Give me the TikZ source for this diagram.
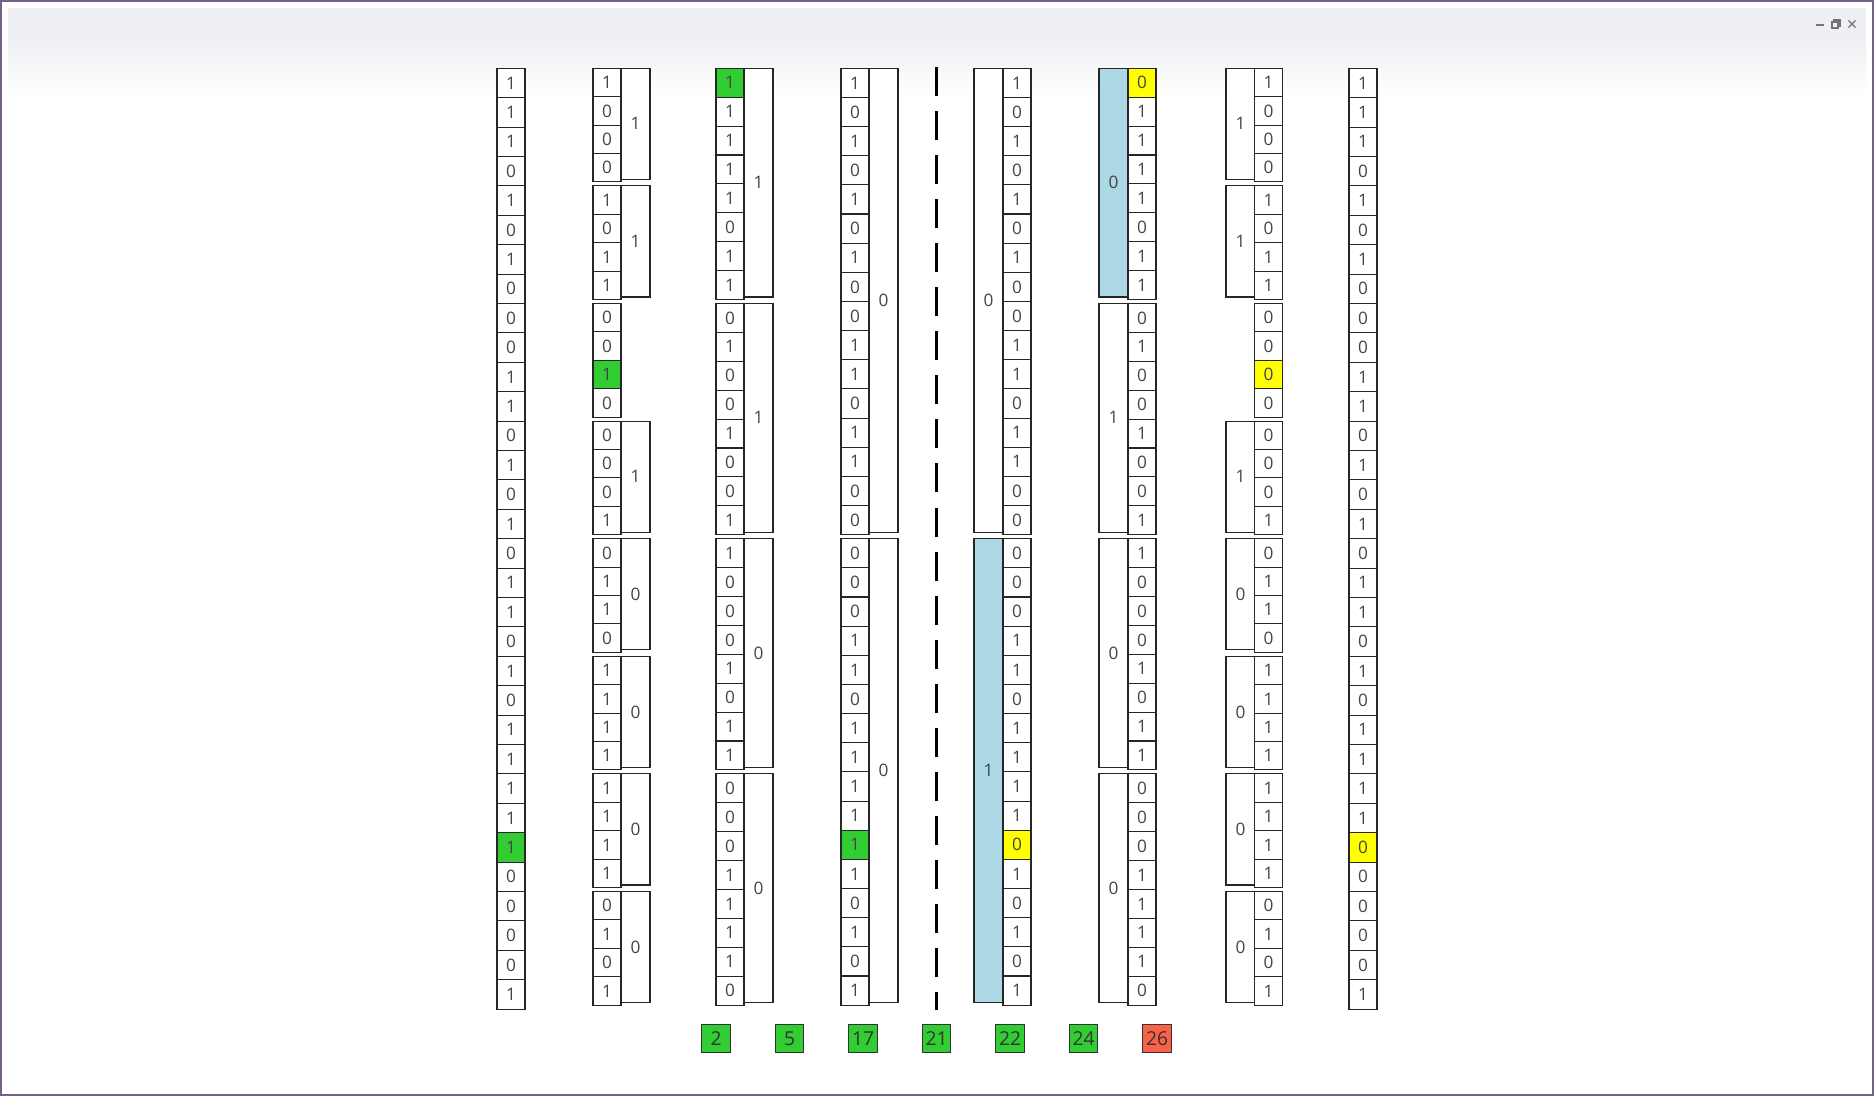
\documentclass[tikz,border=0pt]{standalone}
\usepackage{fontspec}
\setmainfont{Open Sans}
\usetikzlibrary{calc}
\definecolor{bitgreen}{RGB}{50,205,50}
\definecolor{bityellow}{RGB}{255,255,0}
\definecolor{parityblue}{RGB}{173,216,230}
\definecolor{badred}{RGB}{250,98,72}
\definecolor{framepurple}{RGB}{118,96,142}
\definecolor{titlegray}{RGB}{239,238,243}
\definecolor{digitgray}{RGB}{68,68,68}

\tikzset{
  cellline/.style={draw=black!85, line width=0.55pt},
  bittext/.style={inner sep=0pt, text=digitgray, font=\fontsize{8.6}{10}\selectfont},
  flagbox/.style={draw=black!80, line width=0.6pt, minimum size=14.2pt, inner sep=0pt,
    text=black!80, font=\fontsize{9.6}{11}\selectfont},
  sepline/.style={line width=1.35pt, dash pattern=on 14.5pt off 7.5pt}
}

% one column of bits: name, left x, group size, gap, marked row, mark colour, bits
\newcommand{\bitcolumn}[7]{%
  \foreach \b [count=\r from 0] in {#7} {
    \pgfmathtruncatemacro{\g}{\r/#3}
    \pgfmathsetmacro{\ch}{(#3*29.4-#4)/#3}
    \pgfmathsetmacro{\yt}{68.3+\g*#3*29.4+(\r-\g*#3)*\ch}
    \ifnum\r=#5\relax\def\cf{#6}\else\def\cf{white}\fi
    \draw[cellline, fill=\cf] (#2,\yt) rectangle ++(28,\ch);
    \node[bittext] (#1-\r) at (#2+14,\yt+\ch/2) {\b};
  }%
}
% parity box beside a group: name, left x, group size, group, label, fill
\newcommand{\paritybox}[6]{%
  \pgfmathsetmacro{\yt}{68.3+#4*#3*29.4}
  \pgfmathsetmacro{\bh}{#3*29.4-6.5}
  \draw[cellline, fill=#6] (#2,\yt) rectangle ++(29,\bh);
  \node[bittext] (#1) at (#2+14.5,\yt+\bh/2) {#5};
}

\begin{document}
\begin{tikzpicture}[x=0.5pt,y=-0.5pt]
\useasboundingbox (0,0) rectangle (1874,1096);

% window frame and title bar
\fill[white] (0,0) rectangle (1874,1096);
\fill[titlegray] (8,8) rectangle (1866,38);
\shade[top color=titlegray, bottom color=white] (8,38) rectangle (1866,94);
\draw[framepurple, line width=1pt] (1,1) rectangle (1873,1095);
\draw[black!55, line width=1pt] (1816,25.5) -- (1824,25.5);
\draw[black!55, line width=0.6pt] (1832,22) rectangle (1838,28);
\draw[black!55, line width=0.6pt] (1834,22) -- (1834,20) -- (1840,20) -- (1840,26) -- (1838,26);
\draw[black!55, line width=0.6pt] (1848.5,20.5) -- (1855.5,27.5);
\draw[black!55, line width=0.6pt] (1848.5,27.5) -- (1855.5,20.5);

% received word
\bitcolumn{ca}{497}{1}{0}{26}{bitgreen}{1,1,1,0,1,0,1,0,0,0,1,1,0,1,0,1,0,1,1,0,1,0,1,1,1,1,1,0,0,0,0,1}

% groups of four
\bitcolumn{cb}{593}{4}{4}{10}{bitgreen}{1,0,0,0,1,0,1,1,0,0,1,0,0,0,0,1,0,1,1,0,1,1,1,1,1,1,1,1,0,1,0,1}
\foreach \g/\p in {0/1,1/1,3/1,4/0,5/0,6/0,7/0} {
  \paritybox{pb-\g}{621}{4}{\g}{\p}{white}
}

% groups of eight
\bitcolumn{cc}{716}{8}{4}{0}{bitgreen}{1,1,1,1,1,0,1,1,0,1,0,0,1,0,0,1,1,0,0,0,1,0,1,1,0,0,0,1,1,1,1,0}
\foreach \g/\p in {0/1,1/1,2/0,3/0} {
  \paritybox{pc-\g}{744}{8}{\g}{\p}{white}
}

% groups of sixteen
\bitcolumn{cd}{841}{16}{4}{26}{bitgreen}{1,0,1,0,1,0,1,0,0,1,1,0,1,1,0,0,0,0,0,1,1,0,1,1,1,1,1,1,0,1,0,1}
\foreach \g/\p in {0/0,1/0} {
  \paritybox{pd-\g}{869}{16}{\g}{\p}{white}
}

% separator
\coordinate (septop) at (936.8,67.5);
\coordinate (sepbot) at (936.8,1010);
\draw[sepline] (septop) -- (sepbot);

% corrected side
\paritybox{pe-0}{974}{16}{0}{0}{white}
\paritybox{pe-1}{974}{16}{1}{1}{parityblue}
\bitcolumn{ce}{1003}{16}{4}{26}{bityellow}{1,0,1,0,1,0,1,0,0,1,1,0,1,1,0,0,0,0,0,1,1,0,1,1,1,1,0,1,0,1,0,1}

\foreach \g/\p/\c in {0/0/parityblue,1/1/white,2/0/white,3/0/white} {
  \paritybox{pf-\g}{1099}{8}{\g}{\p}{\c}
}
\bitcolumn{cf}{1128}{8}{4}{0}{bityellow}{0,1,1,1,1,0,1,1,0,1,0,0,1,0,0,1,1,0,0,0,1,0,1,1,0,0,0,1,1,1,1,0}

\foreach \g/\p in {0/1,1/1,3/1,4/0,5/0,6/0,7/0} {
  \paritybox{pg-\g}{1226}{4}{\g}{\p}{white}
}
\bitcolumn{cg}{1254.5}{4}{4}{10}{bityellow}{1,0,0,0,1,0,1,1,0,0,0,0,0,0,0,1,0,1,1,0,1,1,1,1,1,1,1,1,0,1,0,1}

\bitcolumn{ch}{1349}{1}{0}{26}{bityellow}{1,1,1,0,1,0,1,0,0,0,1,1,0,1,0,1,0,1,1,0,1,0,1,1,1,1,0,0,0,0,0,1}

% flagged positions
\foreach \v/\x/\c in {2/716/bitgreen,5/789.5/bitgreen,17/863/bitgreen,21/936.5/bitgreen,
    22/1010/bitgreen,24/1083.5/bitgreen,26/1157/badred} {
  \node[flagbox, fill=\c] (flag\v) at (\x,1038.5) {\v};
}

\end{tikzpicture}
\end{document}
